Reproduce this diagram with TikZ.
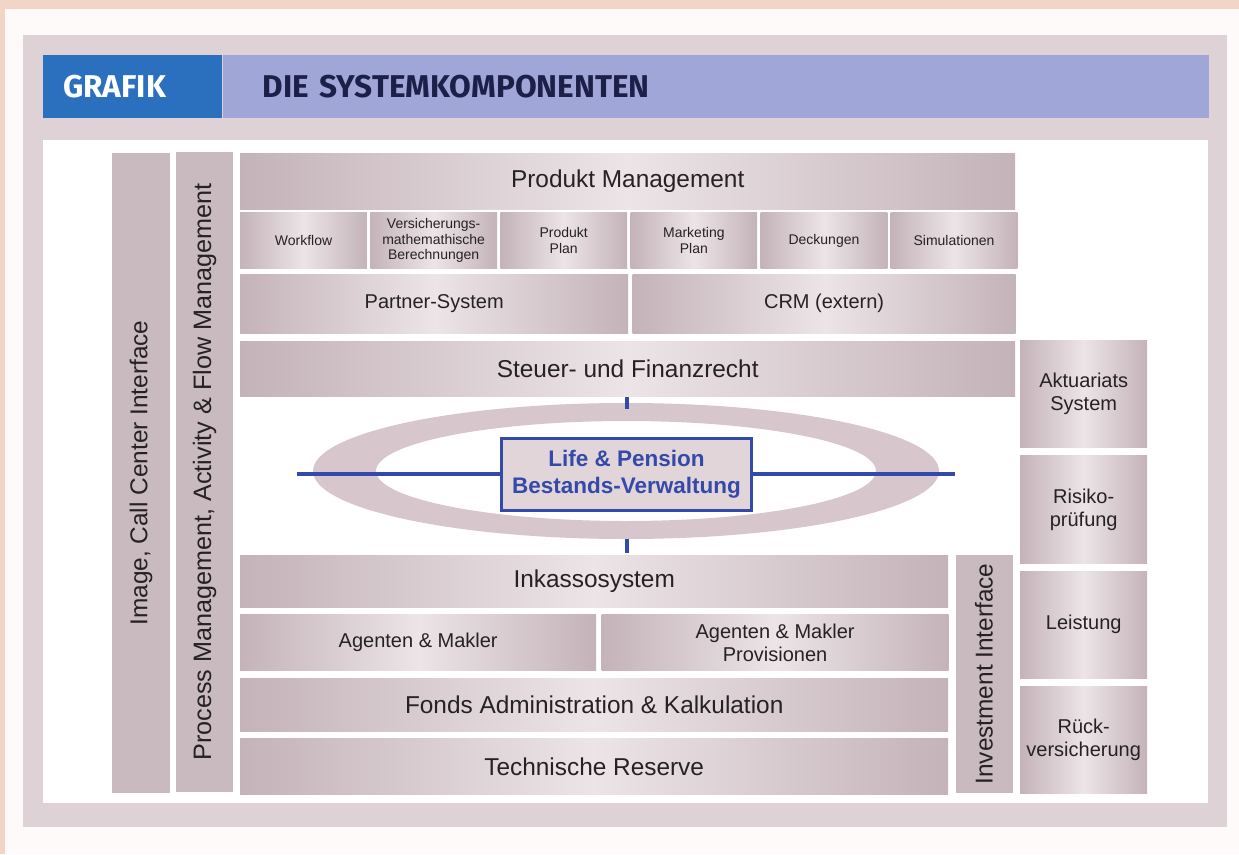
\documentclass[tikz,border=0pt]{standalone}
\usepackage{fontspec}
\setmainfont{Liberation Sans}
\newfontfamily\headfont{Fira Sans}
\usetikzlibrary{positioning}

\definecolor{pagepink}{RGB}{243,213,200}
\definecolor{paper}{RGB}{253,250,249}
\definecolor{framegray}{RGB}{222,210,215}
\definecolor{grafblue}{RGB}{43,112,190}
\definecolor{titlelav}{RGB}{160,166,216}
\definecolor{titleink}{RGB}{28,32,72}
\definecolor{boxdark}{RGB}{196,179,185}
\definecolor{boxlight}{RGB}{236,228,231}
\definecolor{pillarfill}{RGB}{201,186,191}
\definecolor{ringgray}{RGB}{215,198,204}
\definecolor{coreblue}{RGB}{52,74,168}
\definecolor{corefill}{RGB}{226,213,218}
\definecolor{ink}{RGB}{38,34,36}

\tikzset{
	layer/.style={rectangle, inner sep=2pt, left color=boxdark, right color=boxdark, middle color=boxlight, text=ink, font=\fontsize{24.4}{28}\selectfont},
	half/.style={layer, font=\fontsize{20}{23}\selectfont, align=center},
	module/.style={layer, font=\fontsize{14}{15.5}\selectfont, align=center, minimum width=126.7pt, minimum height=56pt},
	side/.style={layer, font=\fontsize{20}{23}\selectfont, align=center, minimum width=127pt, minimum height=107.5pt},
	pillar/.style={rectangle, inner sep=2pt, fill=pillarfill, text=ink, font=\fontsize{24.4}{28}\selectfont, rotate=90, minimum height=58pt},
	% header bands on top of the frame
	band/.style={anchor=north west, minimum height=63pt, align=left, font=\headfont\bfseries\fontsize{31.5}{34}\selectfont},
}

\begin{document}
\begin{tikzpicture}[x=1pt, y=-1pt]
	\useasboundingbox (0,0) rectangle (1239,854);
	
	% paper, frame and white panel
	\fill[paper] (0,0) rectangle (1239,854);
	\fill[pagepink] (0,0) rectangle (1239,9);
	\fill[pagepink] (0,0) rectangle (5,854);
	\fill[framegray] (23,35) rectangle (1227,827);
	\fill[white] (43,140) rectangle (1208,803);
	
	\node (graf) [band, fill=grafblue, text=white, text width=139pt, inner xsep=20pt] at (43,55) {GRAFIK};
	\node (title) [band, right=0pt of graf, anchor=west, fill=titlelav, text=titleink, text width=906pt, inner xsep=40pt] {DIE SYSTEMKOMPONENTEN};
	
	% vertical interfaces
	\node (img) [pillar, minimum width=640pt] at (141,473) {Image, Call Center Interface};
	\node (proc) [pillar, minimum width=640pt, minimum height=57pt, font=\fontsize{25.2}{28}\selectfont] at (204.5,472) {Process Management, Activity \& Flow Management};
	
	% upper stack
	\node (pm) [layer, anchor=north west, minimum width=775pt, minimum height=56pt] at (240,153) {Produkt Management};
	\node (m1) [module, below=3pt of pm.south west, anchor=north west] {Workflow};
	\node (m2) [module, right=3pt of m1] {Versicherungs-\\mathemathische\\Berechnungen};
	\node (m3) [module, right=3pt of m2] {Produkt\\Plan};
	\node (m4) [module, right=3pt of m3] {Marketing\\Plan};
	\node (m5) [module, right=3pt of m4] {Deckungen};
	\node (m6) [module, right=3pt of m5] {Simulationen};
	
	\node (ps) [half, below=5pt of m1.south west, anchor=north west, minimum width=388pt, minimum height=59pt] {Partner-System};
	\node (crm) [half, right=4pt of ps, minimum width=383pt, minimum height=59pt] {CRM (extern)};
	\node (steuer) [layer, below=8pt of ps.south west, anchor=north west, minimum width=775pt, minimum height=55pt] {Steuer- und Finanzrecht};
	
	% lower stack
	\node (ink) [layer, anchor=north west, minimum width=708pt, minimum height=52pt] at (240,555) {Inkassosystem};
	\node (ag) [half, below=7pt of ink.south west, anchor=north west, minimum width=356pt, minimum height=56pt] {Agenten \& Makler};
	\node (agp) [half, right=5pt of ag, minimum width=347pt, minimum height=56pt] {Agenten \& Makler\\Provisionen};
	\node (fonds) [layer, below=7pt of ag.south west, anchor=north west, minimum width=708pt, minimum height=53pt] {Fonds Administration \& Kalkulation};
	\node (tech) [layer, below=7pt of fonds.south west, anchor=north west, minimum width=708pt, minimum height=56pt] {Technische Reserve};
	\node (inv) [pillar, minimum width=238pt, minimum height=57pt] at (984,674) {Investment Interface};
	
	% right column
	\node (akt) [side, anchor=north west] at (1020,340) {Aktuariats\\System};
	\node (risk) [side, below=7.5pt of akt] {Risiko-\\prüfung};
	\node (leist) [side, below=7.5pt of risk] {Leistung};
	\node (rueck) [side, below=7.5pt of leist] {Rück-\\versicherung};
	
	% core in the ring
	\fill[ringgray, even odd rule] (626,471) ellipse [x radius=313, y radius=68] (626,471) ellipse [x radius=250, y radius=50];
	\node (core) [draw=coreblue, line width=3pt, fill=corefill, text=coreblue, align=center, minimum width=250pt, minimum height=72pt, font=\bfseries\fontsize{22.5}{27}\selectfont] at (626.5,474) {Life \& Pension\\Bestands-Verwaltung};
	\coordinate (lend) at (297,474);
	\coordinate (rend) at (955,474);
	
	\begin{scope}[coreblue, line width=4pt]
		\draw (lend) -- (core.west);
		\draw (core.east) -- (rend);
		\draw (core.north) ++(0,-40) -- ++(0,12);
		\draw (core.south) ++(0,27) -- ++(0,14);
	\end{scope}
	
\end{tikzpicture}
\end{document}
